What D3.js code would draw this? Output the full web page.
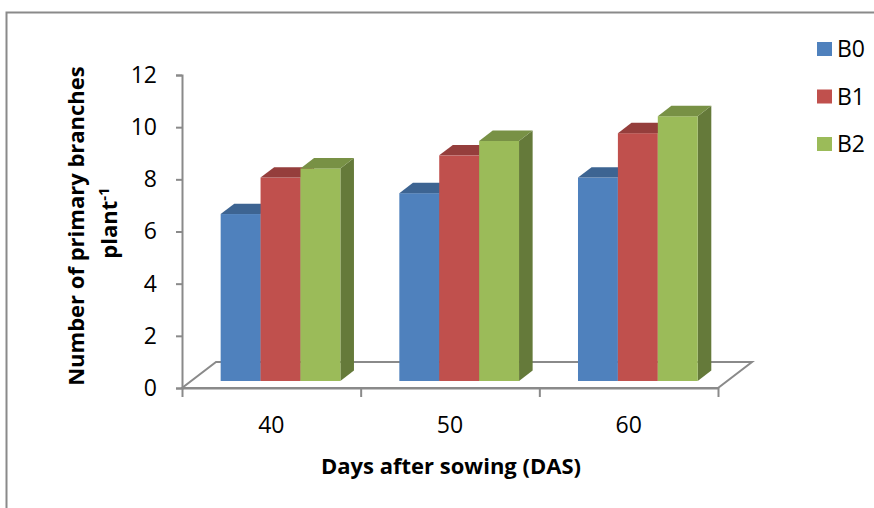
<!DOCTYPE html>
<html>
<head>
<meta charset="utf-8">
<script src="https://cdn.jsdelivr.net/npm/d3@7"></script>
<style>
  body { margin: 0; background: #fff; }
  svg { display: block; font-family: "Open Sans", sans-serif; }
</style>
</head>
<body>
<div id="chart"></div>
<script>
// data
const categories = ["40", "50", "60"];
const seriesNames = ["B0", "B1", "B2"];
const B0 = [6.4, 7.2, 7.8];
const B1 = [7.8, 8.65, 9.5];
const B2 = [8.15, 9.2, 10.15];
const yTicks = [0, 2, 4, 6, 8, 10, 12];

const values = [B0, B1, B2];
const colors = ["#4F81BD", "#C0504D", "#9BBB59"];

const width = 874, height = 508;
const plotLeft = 182, plotRight = 718, plotBottom = 388, plotTop = 75;
// oblique depth of the floor and where the bars sit in it
const depth = {dx: 34, dy: -26};
const barFront = 0.27, barDepth = 0.4;

const svg = d3.select("#chart").append("svg")
  .attr("width", width).attr("height", height);

// outer frame (runs off the right and bottom of the picture)
svg.append("rect")
  .attr("x", 6.5).attr("y", 12.5)
  .attr("width", 1000).attr("height", 800)
  .attr("fill", "none").attr("stroke", "#8a8a8a").attr("stroke-width", 2);

const xScale = d3.scaleBand().domain(categories).range([plotLeft, plotRight])
  .paddingInner(0.33).paddingOuter(0.165);
const sScale = d3.scaleBand().domain(seriesNames).range([0, xScale.bandwidth()]);
const yScale = d3.scaleLinear().domain([0, 12]).range([plotBottom, plotTop]);
const edgeScale = d3.scaleLinear().domain([0, categories.length]).range([plotLeft, plotRight]);

// floor
const floor = [[plotLeft, plotBottom], [plotRight, plotBottom],
  [plotRight + depth.dx, plotBottom + depth.dy], [plotLeft + depth.dx, plotBottom + depth.dy]];
svg.append("path")
  .attr("d", "M" + floor.join("L") + "Z")
  .attr("fill", "#fff").attr("stroke", "#8a8a8a").attr("stroke-width", 2);

// y axis
const yAxis = d3.axisLeft(yScale).tickValues(yTicks).tickSize(6).tickPadding(19);
const gy = svg.append("g").attr("transform", `translate(${plotLeft},0)`).call(yAxis);
gy.select(".domain").attr("stroke", "#8a8a8a").attr("stroke-width", 2);
gy.selectAll(".tick line").attr("stroke", "#8a8a8a").attr("stroke-width", 2);
gy.selectAll(".tick text").attr("font-size", 23).attr("fill", "#000")
  .attr("font-family", "Open Sans, sans-serif");

// x axis: ticks on category edges
const xAxis = d3.axisBottom(edgeScale).tickValues(d3.range(categories.length + 1))
  .tickFormat("").tickSize(9).tickSizeOuter(0);
const gx = svg.append("g").attr("transform", `translate(0,${plotBottom})`).call(xAxis);
gx.select(".domain").attr("stroke", "#8a8a8a").attr("stroke-width", 2);
gx.selectAll(".tick line").attr("stroke", "#8a8a8a").attr("stroke-width", 2);

svg.selectAll(".cat-label")
  .data(categories)
  .join("text")
    .attr("class", "cat-label")
    .attr("x", d => xScale(d) + xScale.bandwidth() / 2)
    .attr("y", 433)
    .attr("text-anchor", "middle")
    .attr("font-size", 23)
    .text(d => d);

// bars
const ox = depth.dx * barFront, oy = depth.dy * barFront;
const bx = depth.dx * barDepth, by = depth.dy * barDepth;
const shade = (c, k) => d3.color(c).darker(k).formatHex();

const bars = [];
categories.forEach((cat, ci) => {
  seriesNames.forEach((s, si) => {
    bars.push({cat, s, si, v: values[si][ci]});
  });
});

const barG = svg.append("g");
bars.forEach(d => {
  const x0 = xScale(d.cat) + sScale(d.s) + ox;
  const x1 = x0 + sScale.bandwidth();
  const y0 = yScale(0) + oy;
  const y1 = yScale(d.v) + oy;
  const g = barG.append("g");
  // side
  g.append("path")
    .attr("d", `M${x1},${y0}L${x1 + bx},${y0 + by}L${x1 + bx},${y1 + by}L${x1},${y1}Z`)
    .attr("fill", shade(colors[d.si], 1.2));
  // front
  g.append("rect")
    .attr("x", x0).attr("y", y1)
    .attr("width", x1 - x0).attr("height", y0 - y1)
    .attr("fill", colors[d.si]);
  // top
  g.append("path")
    .attr("d", `M${x0},${y1}L${x0 + bx},${y1 + by}L${x1 + bx},${y1 + by}L${x1},${y1}Z`)
    .attr("fill", shade(colors[d.si], 0.72));
});

// axis titles
svg.append("text")
  .attr("transform", "translate(84,226) rotate(-90)")
  .attr("text-anchor", "middle")
  .attr("font-size", 22).attr("font-weight", "bold")
  .text("Number of primary branches");

const t2 = svg.append("text")
  .attr("transform", "translate(117,223) rotate(-90)")
  .attr("text-anchor", "middle")
  .attr("font-size", 22).attr("font-weight", "bold");
t2.append("tspan").text("plant");
t2.append("tspan").attr("dy", -8).attr("font-size", 15).text("-1");

svg.append("text")
  .attr("x", 451).attr("y", 474)
  .attr("text-anchor", "middle")
  .attr("font-size", 22).attr("font-weight", "bold")
  .text("Days after sowing (DAS)");

// legend
const legend = svg.append("g").attr("transform", "translate(817,42)");
const li = legend.selectAll("g")
  .data(seriesNames)
  .join("g")
    .attr("transform", (d, i) => `translate(0,${i * 47.5})`);
li.append("rect").attr("width", 15).attr("height", 14)
  .attr("fill", (d, i) => colors[i]);
li.append("text").attr("x", 20).attr("y", 15)
  .attr("font-size", 23).text(d => d);
</script>
</body>
</html>
